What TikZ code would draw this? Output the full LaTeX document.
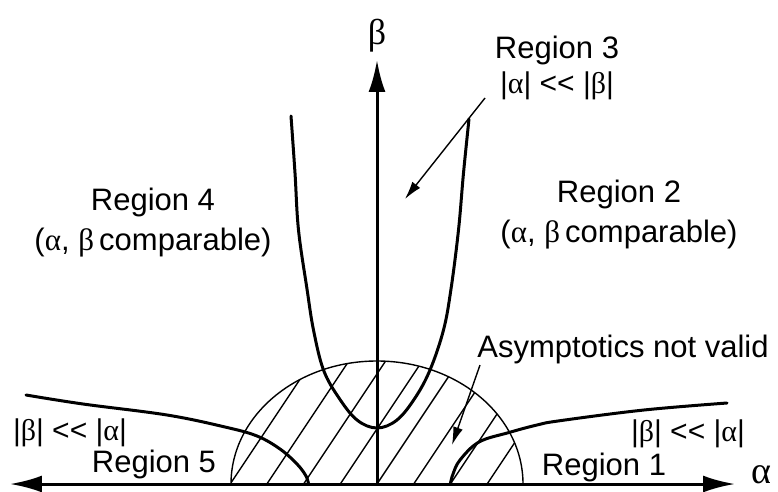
\documentclass[tikz,border=0pt]{standalone}
\usepackage{fontspec}
\setmainfont{Liberation Sans}
\newfontfamily\greekfont{Liberation Serif}
\usetikzlibrary{arrows.meta, positioning}
\newcommand{\ga}{{\greekfont α}}
\newcommand{\gb}{{\greekfont β}}

\begin{document}
\begin{tikzpicture}[x=1pt, y=1pt, font=\fontsize{31}{40}\selectfont,
    axisline/.style={line width=3pt},
    bigtip/.style={-{Latex[length=32pt, width=17pt]}},
    curveline/.style={line width=3pt, line cap=round},
    thinline/.style={line width=1.4pt},
    pointer/.style={line width=1.4pt, -{Latex[length=18pt, width=10pt]}},
    label/.style={anchor=base, align=center, inner sep=0pt}]
    \useasboundingbox (-377,-7) rectangle (401,484);

    \coordinate (o) at (0,0);
    \coordinate (xleft) at (-367,0);
    \coordinate (xright) at (358,0);
    \coordinate (ytop) at (0,424);

    % shaded zone where asymptotics fail
    \begin{scope}
        \clip (146,0) arc[start angle=0, end angle=180, x radius=146, y radius=123] -- cycle;
        \foreach \k in {-6,...,4}
            \draw[thinline] ({36.7*\k},0) -- ++(120,180);
    \end{scope}
    \draw[thinline] (146,0) arc[start angle=0, end angle=180, x radius=146, y radius=123];

    % region boundaries
    \draw[curveline] plot[smooth, tension=0.6] coordinates {(-86,368) (-82,311) (-78.5,254) (-70,195) (-63.5,154) (-53.5,114) (-38,86) (-20,64) (0,56) (20,64) (38,86) (53,114) (66.5,154) (74,195) (81.5,254) (86.5,311) (92,365)};
    \draw[curveline] plot[smooth, tension=0.6] coordinates {(-351,89) (-294,80) (-210,69) (-152,57) (-120,48) (-97,35) (-80,20) (-71,8) (-68.5,0)};
    \draw[curveline] plot[smooth, tension=0.6] coordinates {(73.3,0) (76,10) (83,24) (102,42) (132,51.5) (160,59) (183,63.3) (267,74) (350,81)};

    % axes
    \draw[axisline, bigtip] (o) -- (ytop);
    \draw[axisline, bigtip] (o) -- (xright);
    \draw[axisline, bigtip] (o) -- (xleft);
    \node[label, font=\fontsize{38}{38}\selectfont\greekfont] (alab) at (384,1) {α};
    \node[label, font=\fontsize{36}{36}\selectfont\greekfont] (blab) at (0,439) {β};

    % labels
    \node[label] (r3) at (180,390) {Region 3\\[-5pt]{\fontsize{30}{30}\selectfont |\ga| <{}< |\gb|}};
    \node[label] (r4) at (-224,234) {Region 4\\(\ga, \gb\,comparable)};
    \node[label] (r2) at (242,242) {Region 2\\(\ga, \gb\,comparable)};
    \node[label] (bad) at (246,127) {Asymptotics not valid};
    \node[label, font=\fontsize{30}{30}\selectfont] (r5cond) at (-307,44) {|\gb| <{}< |\ga|};
    \node[label] (r5) at (-223,12) {Region 5};
    \node[label, font=\fontsize{30}{30}\selectfont] (r1cond) at (311,43) {|\gb| <{}< |\ga|};
    \node[label] (r1) at (227,9) {Region 1};

    \coordinate (r3from) at (108,386);
    \coordinate (r3to) at (28,285);
    \coordinate (badfrom) at (103,119);
    \coordinate (badto) at (75,39);
    \draw[pointer] (r3from) -- (r3to);
    \draw[pointer] (badfrom) -- (badto);
\end{tikzpicture}
\end{document}
